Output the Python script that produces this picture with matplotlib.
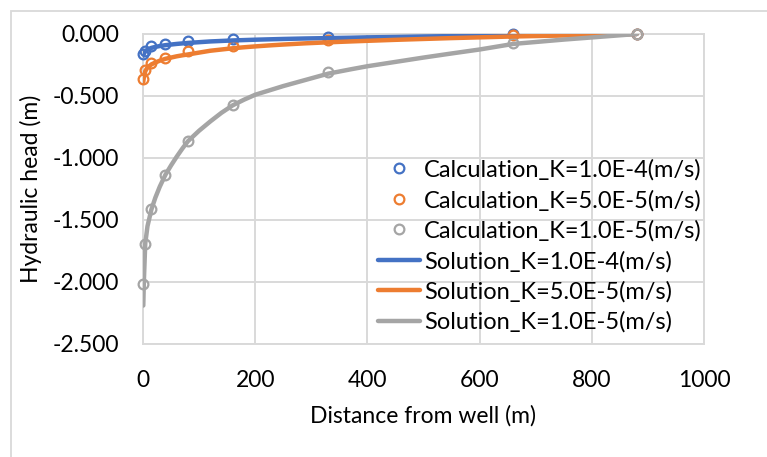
import matplotlib
matplotlib.use("Agg")
import matplotlib.pyplot as plt
from matplotlib.patches import Rectangle
from matplotlib.ticker import FormatStrFormatter

plt.rcParams['font.family'] = ['Lato', 'DejaVu Sans']

# Calculated heads at observation distances (m)
calc_x = [0.5, 4, 15, 40, 80, 160, 330, 660, 880]
calc_k1e4 = [-0.16, -0.14, -0.10, -0.082, -0.055, -0.040, -0.022, 0.0, 0.0]
calc_k5e5 = [-0.36, -0.29, -0.235, -0.19, -0.135, -0.095, -0.045, -0.005, 0.0]
calc_k1e5 = [-2.02, -1.69, -1.415, -1.135, -0.865, -0.575, -0.31, -0.075, 0.0]

# Analytical solution curves
sol_x = [0.5, 1.5, 4, 8, 15, 22, 30, 40, 50, 60, 70, 80, 100, 120, 140, 160, 180,
         200, 225, 250, 290, 330, 370, 400, 450, 500, 550, 600, 660, 750, 880]
sol_k1e4 = [-0.175, -0.16, -0.14, -0.125, -0.112, -0.104, -0.097, -0.09, -0.085, -0.08,
            -0.076, -0.072, -0.066, -0.06, -0.056, -0.052, -0.049, -0.046, -0.043,
            -0.040, -0.036, -0.033, -0.030, -0.027, -0.024, -0.020, -0.017, -0.014,
            -0.011, -0.006, 0.0]
sol_k5e5 = [-0.385, -0.35, -0.30, -0.27, -0.245, -0.23, -0.215, -0.20, -0.19, -0.18,
            -0.172, -0.165, -0.15, -0.135, -0.125, -0.115, -0.107, -0.10, -0.092,
            -0.085, -0.075, -0.067, -0.060, -0.055, -0.047, -0.040, -0.033, -0.027,
            -0.020, -0.012, 0.0]
sol_k1e5 = [-2.19, -2.0, -1.69, -1.55, -1.415, -1.32, -1.23, -1.135, -1.06, -0.99,
            -0.925, -0.865, -0.78, -0.705, -0.635, -0.575, -0.53, -0.49, -0.455,
            -0.42, -0.37, -0.32, -0.285, -0.26, -0.225, -0.19, -0.157, -0.125,
            -0.08, -0.045, 0.0]

blue, orange, gray = '#4472C4', '#ED7D31', '#A5A5A5'
grid_c = '#D9D9D9'

W, H = 767, 457
fig = plt.figure(figsize=(W / 100, H / 100), dpi=100)
fig.patch.set_facecolor('white')

# chart area border
fig.patches.append(Rectangle((10.5 / W, -0.1), 1.2, (H - 10.5) / H + 0.1,
                             transform=fig.transFigure, fill=False,
                             edgecolor=grid_c, linewidth=1.3, zorder=0))

left, right, top, bottom = 143, 704, 34, 344
ax = fig.add_axes([left / W, 1 - bottom / H, (right - left) / W, (bottom - top) / H])
ax.set_xlim(0, 1000)
ax.set_ylim(-2.5, 0.0)
ax.set_xticks([0, 200, 400, 600, 800, 1000])
ax.set_yticks([0.0, -0.5, -1.0, -1.5, -2.0, -2.5])
ax.yaxis.set_major_formatter(FormatStrFormatter('%.3f'))
ax.grid(True, color=grid_c, linewidth=1.4, zorder=0)
ax.set_axisbelow(True)
for s in ax.spines.values():
    s.set_color(grid_c)
    s.set_linewidth(1.4)
ax.tick_params(length=0, labelsize=16.5, colors='black')
ax.tick_params(axis='y', pad=17)
ax.tick_params(axis='x', pad=19)

mk = dict(linestyle='none', marker='o', markersize=7, markerfacecolor='none',
          markeredgewidth=1.6, clip_on=False, zorder=3)
ax.plot(calc_x, calc_k1e4, color=blue, label='Calculation_K=1.0E-4(m/s)', **mk)
ax.plot(calc_x, calc_k5e5, color=orange, label='Calculation_K=5.0E-5(m/s)', **mk)
ax.plot(calc_x, calc_k1e5, color=gray, label='Calculation_K=1.0E-5(m/s)', **mk)

ln = dict(linewidth=3.2, solid_capstyle='round', solid_joinstyle='round', zorder=4)
ax.plot(sol_x, sol_k1e4, color=blue, label='Solution_K=1.0E-4(m/s)', **ln)
ax.plot(sol_x, sol_k5e5, color=orange, label='Solution_K=5.0E-5(m/s)', **ln)
ax.plot(sol_x, sol_k1e5, color=gray, label='Solution_K=1.0E-5(m/s)', **ln)

ax.set_xlabel('Distance from well (m)', fontsize=16.5, labelpad=10)
ax.set_ylabel('Hydraulic head (m)', fontsize=16.5, labelpad=8)

leg = ax.legend(loc='lower right', bbox_to_anchor=(1.005, 0.02), frameon=False,
                fontsize=17, handlelength=1.75, handletextpad=0.2,
                labelspacing=0.38, borderpad=0.2, borderaxespad=0.0)

fig.savefig('out.png', dpi=100, facecolor='white')
